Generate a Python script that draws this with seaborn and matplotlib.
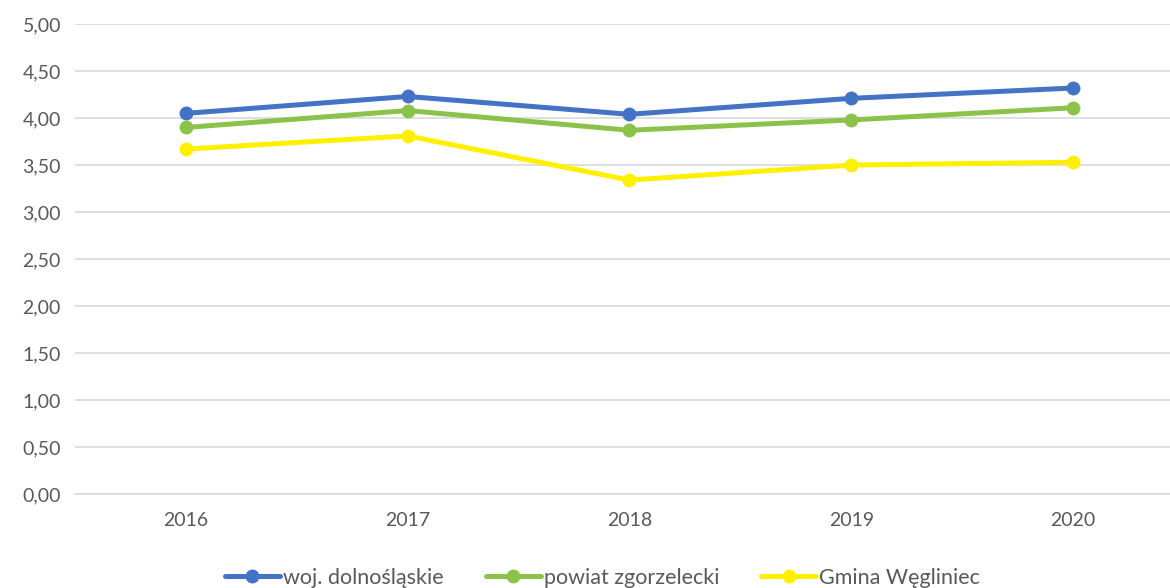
import matplotlib
matplotlib.use("Agg")
import matplotlib.pyplot as plt
import seaborn as sns
import pandas as pd
from matplotlib.lines import Line2D

years = ["2016", "2017", "2018", "2019", "2020"]
woj = [4.05, 4.23, 4.04, 4.21, 4.32]
powiat = [3.90, 4.08, 3.87, 3.98, 4.11]
gmina = [3.67, 3.81, 3.34, 3.50, 3.53]
series_names = ["woj. dolnośląskie", "powiat zgorzelecki", "Gmina Węgliniec"]
colors = ["#4472C4", "#8BC34A", "#FFF000"]

rows = []
for name, vals in zip(series_names, [woj, powiat, gmina]):
    for i, (y, v) in enumerate(zip(years, vals)):
        rows.append({"idx": i, "year": y, "value": v, "series": name})
df = pd.DataFrame(rows)

sns.set_style("white")
plt.rcParams["font.family"] = ["Lato", "DejaVu Sans"]

fig = plt.figure(figsize=(11.7, 5.88), dpi=100)
ax = fig.add_axes([0.064, 0.16, 0.948, 0.799])

sns.lineplot(data=df, x="idx", y="value", hue="series", palette=colors,
             hue_order=series_names, marker="o", markersize=10, linewidth=3.6,
             markeredgewidth=0, ax=ax, legend=False)

ax.set_xlim(-0.5, 4.5)
ax.set_ylim(0, 5)
ax.set_yticks([i * 0.5 for i in range(11)])
ax.set_yticklabels([f"{i*0.5:.2f}".replace(".", ",") for i in range(11)])
ax.set_xticks(range(len(years)))
ax.set_xticklabels(years)
ax.yaxis.grid(True, color="#D9D9D9", linewidth=1.2)
ax.set_axisbelow(True)
for s in ["top", "right", "left"]:
    ax.spines[s].set_visible(False)
ax.spines["bottom"].set_color("#D9D9D9")
ax.spines["bottom"].set_linewidth(1.2)
ax.tick_params(axis="both", length=0, labelsize=14, labelcolor="#595959")
ax.tick_params(axis="x", pad=13)
ax.tick_params(axis="y", pad=10)
ax.set_xlabel("")
ax.set_ylabel("")

handles = [Line2D([], [], color=c, lw=3.6, marker="o", markersize=10, markeredgewidth=0)
           for c in colors]
fig.legend(handles, series_names, loc="center", bbox_to_anchor=(0.515, 0.017),
           ncol=3, frameon=False, fontsize=15.5, labelcolor="#595959",
           handlelength=2.55, handletextpad=0.15, columnspacing=1.95)

fig.savefig("out.png", dpi=100)
